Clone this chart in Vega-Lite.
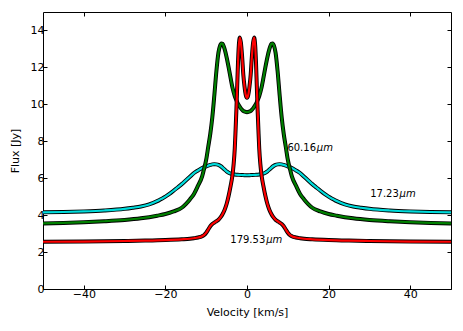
{
  "$schema": "https://vega.github.io/schema/vega-lite/v6.json",
  "width": 408,
  "height": 277,
  "autosize": {"type": "none"},
  "padding": {"left": 43, "top": 12, "right": 12, "bottom": 42},
  "background": "white",
  "config": {
    "font": "DejaVu Sans",
    "view": {"stroke": "#000", "strokeWidth": 1},
    "axis": {
      "grid": false,
      "domain": false,
      "tickColor": "#000",
      "tickSize": -4,
      "tickWidth": 1,
      "labelOverlap": false,
      "labelFlush": false,
      "labelFont": "DejaVu Sans",
      "labelFontSize": 11,
      "labelColor": "#000",
      "titleFont": "DejaVu Sans",
      "titleFontSize": 11,
      "titleFontWeight": "normal",
      "titleColor": "#000"
    }
  },
  "datasets": {
    "curves": [
      {"s":"c","v":-50,"f":4.15},{"s":"c","v":-45,"f":4.17},{"s":"c","v":-40,"f":4.2},{"s":"c","v":-35,"f":4.25},{"s":"c","v":-30,"f":4.34},{"s":"c","v":-28,"f":4.4},{"s":"c","v":-26,"f":4.47},{"s":"c","v":-24,"f":4.58},{"s":"c","v":-22,"f":4.76},{"s":"c","v":-21,"f":4.88},{"s":"c","v":-20,"f":5.0},{"s":"c","v":-19,"f":5.15},{"s":"c","v":-18,"f":5.32},{"s":"c","v":-17,"f":5.5},{"s":"c","v":-16,"f":5.68},{"s":"c","v":-15,"f":5.88},{"s":"c","v":-14,"f":6.08},{"s":"c","v":-13,"f":6.28},{"s":"c","v":-12,"f":6.42},{"s":"c","v":-11,"f":6.55},{"s":"c","v":-10,"f":6.64},{"s":"c","v":-9,"f":6.72},{"s":"c","v":-8.5,"f":6.75},{"s":"c","v":-8,"f":6.76},{"s":"c","v":-7.5,"f":6.75},{"s":"c","v":-7,"f":6.72},{"s":"c","v":-6.5,"f":6.66},{"s":"c","v":-6,"f":6.57},{"s":"c","v":-5.5,"f":6.47},{"s":"c","v":-5,"f":6.37},{"s":"c","v":-4.5,"f":6.3},{"s":"c","v":-4,"f":6.25},{"s":"c","v":-3,"f":6.2},{"s":"c","v":-2,"f":6.18},{"s":"c","v":-1,"f":6.17},{"s":"c","v":0,"f":6.16},
      {"s":"c","v":1,"f":6.17},{"s":"c","v":2,"f":6.18},{"s":"c","v":3,"f":6.2},{"s":"c","v":4,"f":6.25},{"s":"c","v":4.5,"f":6.3},{"s":"c","v":5,"f":6.37},{"s":"c","v":5.5,"f":6.47},{"s":"c","v":6,"f":6.57},{"s":"c","v":6.5,"f":6.66},{"s":"c","v":7,"f":6.72},{"s":"c","v":7.5,"f":6.75},{"s":"c","v":8,"f":6.76},{"s":"c","v":8.5,"f":6.75},{"s":"c","v":9,"f":6.72},{"s":"c","v":10,"f":6.64},{"s":"c","v":11,"f":6.55},{"s":"c","v":12,"f":6.42},{"s":"c","v":13,"f":6.28},{"s":"c","v":14,"f":6.08},{"s":"c","v":15,"f":5.88},{"s":"c","v":16,"f":5.68},{"s":"c","v":17,"f":5.5},{"s":"c","v":18,"f":5.32},{"s":"c","v":19,"f":5.15},{"s":"c","v":20,"f":5.0},{"s":"c","v":21,"f":4.88},{"s":"c","v":22,"f":4.76},{"s":"c","v":24,"f":4.58},{"s":"c","v":26,"f":4.47},{"s":"c","v":28,"f":4.4},{"s":"c","v":30,"f":4.34},{"s":"c","v":35,"f":4.25},{"s":"c","v":40,"f":4.2},{"s":"c","v":45,"f":4.17},{"s":"c","v":50,"f":4.15},

      {"s":"g","v":-50,"f":3.55},{"s":"g","v":-45,"f":3.58},{"s":"g","v":-40,"f":3.62},{"s":"g","v":-35,"f":3.67},{"s":"g","v":-30,"f":3.74},{"s":"g","v":-26,"f":3.83},{"s":"g","v":-22,"f":3.97},{"s":"g","v":-20,"f":4.06},{"s":"g","v":-18,"f":4.2},{"s":"g","v":-16,"f":4.4},{"s":"g","v":-15,"f":4.6},{"s":"g","v":-14,"f":4.85},{"s":"g","v":-13,"f":5.15},{"s":"g","v":-12,"f":5.6},{"s":"g","v":-11,"f":6.1},{"s":"g","v":-10.6,"f":6.44},{"s":"g","v":-10,"f":7.0},{"s":"g","v":-9.5,"f":7.7},{"s":"g","v":-9,"f":8.4},{"s":"g","v":-8.5,"f":9.3},{"s":"g","v":-8,"f":10.5},{"s":"g","v":-7.5,"f":11.8},{"s":"g","v":-7,"f":12.8},{"s":"g","v":-6.6,"f":13.18},{"s":"g","v":-6.3,"f":13.3},{"s":"g","v":-6,"f":13.28},{"s":"g","v":-5.5,"f":13.0},{"s":"g","v":-5,"f":12.55},{"s":"g","v":-4.5,"f":12.0},{"s":"g","v":-4,"f":11.4},{"s":"g","v":-3.5,"f":10.85},{"s":"g","v":-3,"f":10.45},{"s":"g","v":-2.5,"f":10.17},{"s":"g","v":-2,"f":9.95},{"s":"g","v":-1.5,"f":9.78},{"s":"g","v":-1,"f":9.66},{"s":"g","v":-0.5,"f":9.6},{"s":"g","v":0,"f":9.57},
      {"s":"g","v":0.5,"f":9.6},{"s":"g","v":1,"f":9.66},{"s":"g","v":1.5,"f":9.78},{"s":"g","v":2,"f":9.95},{"s":"g","v":2.5,"f":10.17},{"s":"g","v":3,"f":10.45},{"s":"g","v":3.5,"f":10.85},{"s":"g","v":4,"f":11.4},{"s":"g","v":4.5,"f":12.0},{"s":"g","v":5,"f":12.55},{"s":"g","v":5.5,"f":13.0},{"s":"g","v":6,"f":13.28},{"s":"g","v":6.3,"f":13.3},{"s":"g","v":6.6,"f":13.18},{"s":"g","v":7,"f":12.8},{"s":"g","v":7.5,"f":11.8},{"s":"g","v":8,"f":10.5},{"s":"g","v":8.5,"f":9.3},{"s":"g","v":9,"f":8.4},{"s":"g","v":9.5,"f":7.7},{"s":"g","v":10,"f":7.0},{"s":"g","v":10.6,"f":6.44},{"s":"g","v":11,"f":6.1},{"s":"g","v":12,"f":5.6},{"s":"g","v":13,"f":5.15},{"s":"g","v":14,"f":4.85},{"s":"g","v":15,"f":4.6},{"s":"g","v":16,"f":4.4},{"s":"g","v":18,"f":4.2},{"s":"g","v":20,"f":4.06},{"s":"g","v":22,"f":3.97},{"s":"g","v":26,"f":3.83},{"s":"g","v":30,"f":3.74},{"s":"g","v":35,"f":3.67},{"s":"g","v":40,"f":3.62},{"s":"g","v":45,"f":3.58},{"s":"g","v":50,"f":3.55},

      {"s":"r","v":-50,"f":2.56},{"s":"r","v":-40,"f":2.57},{"s":"r","v":-30,"f":2.6},{"s":"r","v":-25,"f":2.62},{"s":"r","v":-20,"f":2.65},{"s":"r","v":-16,"f":2.69},{"s":"r","v":-14,"f":2.72},{"s":"r","v":-13,"f":2.75},{"s":"r","v":-12,"f":2.79},{"s":"r","v":-11,"f":2.86},{"s":"r","v":-10.5,"f":2.93},{"s":"r","v":-10,"f":3.05},{"s":"r","v":-9.5,"f":3.22},{"s":"r","v":-9,"f":3.4},{"s":"r","v":-8.5,"f":3.52},{"s":"r","v":-8,"f":3.6},{"s":"r","v":-7.5,"f":3.67},{"s":"r","v":-7,"f":3.75},{"s":"r","v":-6.5,"f":3.88},{"s":"r","v":-6,"f":4.05},{"s":"r","v":-5.5,"f":4.28},{"s":"r","v":-5,"f":4.6},{"s":"r","v":-4.5,"f":5.05},{"s":"r","v":-4,"f":5.6},{"s":"r","v":-3.6,"f":6.1},{"s":"r","v":-3.3,"f":6.7},{"s":"r","v":-3,"f":7.6},{"s":"r","v":-2.8,"f":8.6},{"s":"r","v":-2.6,"f":9.7},{"s":"r","v":-2.4,"f":11.0},{"s":"r","v":-2.2,"f":12.3},{"s":"r","v":-2,"f":13.2},{"s":"r","v":-1.75,"f":13.62},{"s":"r","v":-1.5,"f":13.35},{"s":"r","v":-1.2,"f":12.6},{"s":"r","v":-0.9,"f":11.6},{"s":"r","v":-0.6,"f":10.95},{"s":"r","v":-0.3,"f":10.5},{"s":"r","v":0,"f":10.35},
      {"s":"r","v":0.3,"f":10.5},{"s":"r","v":0.6,"f":10.95},{"s":"r","v":0.9,"f":11.6},{"s":"r","v":1.2,"f":12.6},{"s":"r","v":1.5,"f":13.35},{"s":"r","v":1.75,"f":13.62},{"s":"r","v":2,"f":13.2},{"s":"r","v":2.2,"f":12.3},{"s":"r","v":2.4,"f":11.0},{"s":"r","v":2.6,"f":9.7},{"s":"r","v":2.8,"f":8.6},{"s":"r","v":3,"f":7.6},{"s":"r","v":3.3,"f":6.7},{"s":"r","v":3.6,"f":6.1},{"s":"r","v":4,"f":5.6},{"s":"r","v":4.5,"f":5.05},{"s":"r","v":5,"f":4.6},{"s":"r","v":5.5,"f":4.28},{"s":"r","v":6,"f":4.05},{"s":"r","v":6.5,"f":3.88},{"s":"r","v":7,"f":3.75},{"s":"r","v":7.5,"f":3.67},{"s":"r","v":8,"f":3.6},{"s":"r","v":8.5,"f":3.52},{"s":"r","v":9,"f":3.4},{"s":"r","v":9.5,"f":3.22},{"s":"r","v":10,"f":3.05},{"s":"r","v":10.5,"f":2.93},{"s":"r","v":11,"f":2.86},{"s":"r","v":12,"f":2.79},{"s":"r","v":13,"f":2.75},{"s":"r","v":14,"f":2.72},{"s":"r","v":16,"f":2.69},{"s":"r","v":20,"f":2.65},{"s":"r","v":25,"f":2.62},{"s":"r","v":30,"f":2.6},{"s":"r","v":40,"f":2.57},{"s":"r","v":50,"f":2.56}
    ],
    "labels": [
      {"k":"num","t":"60.16","v":9.9,"f":7.49},
      {"k":"unit","t":"μm","v":17.1,"f":7.49},
      {"k":"num","t":"17.23","v":30.2,"f":4.96},
      {"k":"unit","t":"μm","v":37.4,"f":4.96},
      {"k":"num","t":"179.53","v":-4.1,"f":2.49},
      {"k":"unit","t":"μm","v":4.7,"f":2.49}
    ]
  },
  "layer": [
    {
      "encoding": {
        "x": {"field": "v", "type": "quantitative", "scale": {"domain": [-50, 50], "nice": false},
              "axis": {"orient": "bottom", "values": [-40, -20, 0, 20, 40], "title": "Velocity [km/s]", "labelPadding": 3, "titlePadding": 7, "labelOverlap": false}},
        "y": {"field": "f", "type": "quantitative", "scale": {"domain": [0, 15], "nice": false, "zero": false},
              "axis": {"orient": "left", "values": [0, 2, 4, 6, 8, 10, 12, 14], "title": "Flux [Jy]", "labelPadding": 3, "titlePadding": 10, "labelOverlap": false}}
      },
      "layer": [
        {
          "data": {"name": "curves"},
          "transform": [{"filter": "datum.s === 'c'"}],
          "mark": {"type": "line", "color": "#000", "strokeWidth": 4, "interpolate": "monotone"},
          "encoding": {"order": {"field": "v", "type": "quantitative"}}
        },
        {
          "data": {"name": "curves"},
          "transform": [{"filter": "datum.s === 'c'"}],
          "mark": {"type": "line", "color": "#00DCDC", "strokeWidth": 2.2, "interpolate": "monotone"},
          "encoding": {"order": {"field": "v", "type": "quantitative"}}
        },
        {
          "data": {"name": "curves"},
          "transform": [{"filter": "datum.s === 'g'"}],
          "mark": {"type": "line", "color": "#000", "strokeWidth": 4, "interpolate": "monotone"},
          "encoding": {"order": {"field": "v", "type": "quantitative"}}
        },
        {
          "data": {"name": "curves"},
          "transform": [{"filter": "datum.s === 'g'"}],
          "mark": {"type": "line", "color": "#008000", "strokeWidth": 2.2, "interpolate": "monotone"},
          "encoding": {"order": {"field": "v", "type": "quantitative"}}
        },
        {
          "data": {"name": "curves"},
          "transform": [{"filter": "datum.s === 'r'"}],
          "mark": {"type": "line", "color": "#000", "strokeWidth": 4, "interpolate": "monotone"},
          "encoding": {"order": {"field": "v", "type": "quantitative"}}
        },
        {
          "data": {"name": "curves"},
          "transform": [{"filter": "datum.s === 'r'"}],
          "mark": {"type": "line", "color": "#FF0000", "strokeWidth": 2.2, "interpolate": "monotone"},
          "encoding": {"order": {"field": "v", "type": "quantitative"}}
        },
        {
          "data": {"name": "labels"},
          "transform": [{"filter": "datum.k === 'num'"}],
          "mark": {"type": "text", "align": "left", "baseline": "alphabetic", "font": "DejaVu Sans", "fontSize": 10, "color": "#000"},
          "encoding": {"text": {"field": "t"}}
        },
        {
          "data": {"name": "labels"},
          "transform": [{"filter": "datum.k === 'unit'"}],
          "mark": {"type": "text", "align": "left", "baseline": "alphabetic", "font": "DejaVu Sans", "fontStyle": "italic", "fontSize": 10, "color": "#000"},
          "encoding": {"text": {"field": "t"}}
        }
      ]
    },
    {
      "data": {"name": "curves"},
      "mark": {"type": "point", "opacity": 0},
      "encoding": {
        "x": {"field": "v", "type": "quantitative", "axis": {"orient": "top", "values": [-40, -20, 0, 20, 40], "labels": false, "title": null, "labelOverlap": false}},
        "y": {"field": "f", "type": "quantitative", "axis": {"orient": "right", "values": [0, 2, 4, 6, 8, 10, 12, 14], "labels": false, "title": null, "labelOverlap": false}}
      }
    }
  ],
  "resolve": {"axis": {"x": "independent", "y": "independent"}}
}
